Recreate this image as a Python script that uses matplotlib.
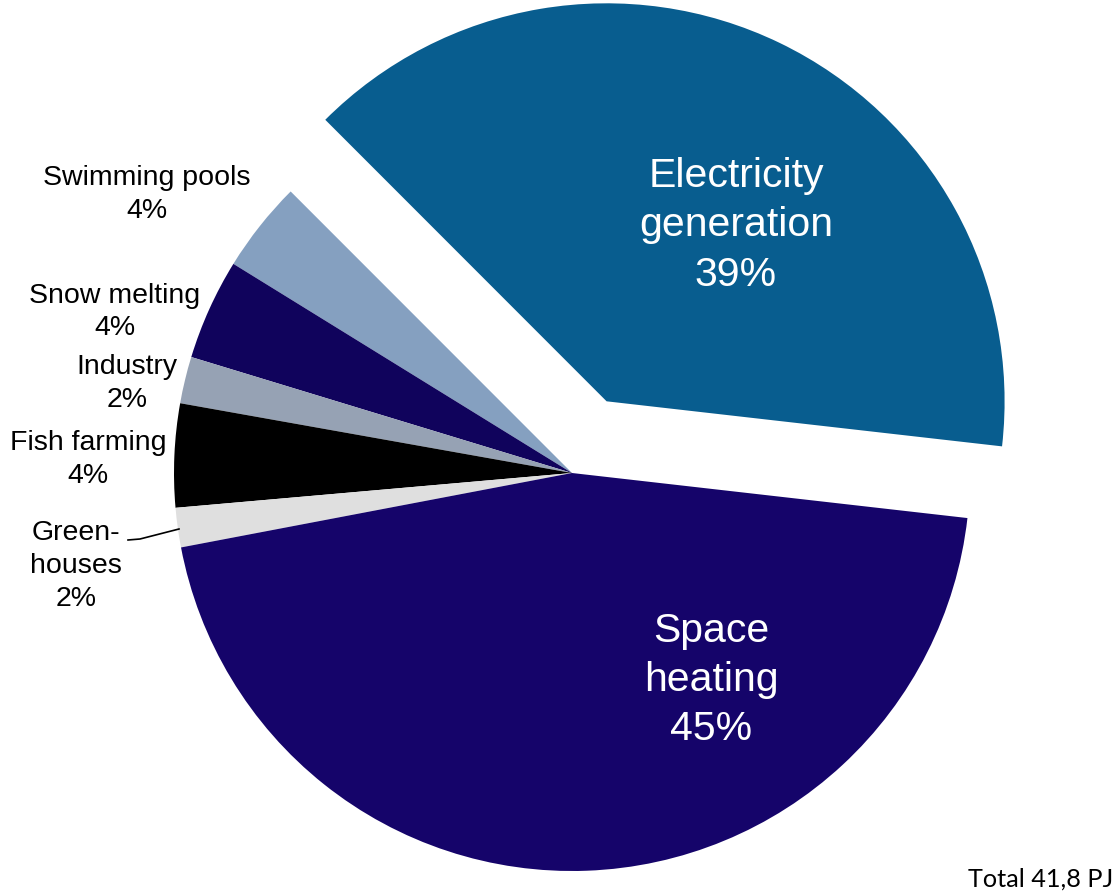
import matplotlib.pyplot as plt

# shares of geothermal use (%)
categories = ["Electricity\ngeneration", "Swimming pools", "Snow melting", "Industry",
              "Fish farming", "Green-\nhouses", "Space\nheating"]
shares = [39.3, 3.7, 4.1, 1.9, 4.2, 1.6, 45.2]
pct_labels = ["39%", "4%", "4%", "2%", "4%", "2%", "45%"]
colors = ["#085D8F", "#85A0C0", "#10035C", "#96A2B4", "#000000", "#DFDFDF", "#15046A"]
total_text = "Total 41,8 PJ"

W, H = 1117, 894
R = 398
cx, cy = 572, H - 473

fig = plt.figure(figsize=(W / 100, H / 100), dpi=100)
ax = fig.add_axes([0, 0, 1, 1])

explode = [0.2 * R] + [0] * (len(shares) - 1)
ax.pie(shares, colors=colors, explode=explode, startangle=-6.5, counterclock=True,
       center=(cx, cy), radius=R, frame=True, wedgeprops=dict(linewidth=0))
ax.set_xlim(0, W)
ax.set_ylim(0, H)
ax.set_aspect("equal")
ax.axis("off")

font = "Liberation Sans"


def put(lines, x, y_base, dy, size, color):
    # y_base: baseline of first line in image pixels (top-down)
    for i, line in enumerate(lines):
        ax.text(x, H - (y_base + i * dy), line, ha="center", va="baseline",
                fontsize=size, color=color, family=font)


# label positions (image pixels): x center, first baseline, line step
pos = {
    0: (736, 187, 49.5, 29.5, "white"),
    1: (147, 185, 33, 20.5, "black"),
    2: (115, 303, 32, 20.5, "black"),
    3: (127, 374, 33, 20.5, "black"),
    4: (88, 450, 33, 20.5, "black"),
    5: (76, 540, 33, 20.5, "black"),
    6: (711, 642, 49, 29.5, "white"),
}
for i, (x, yb, dy, size, col) in pos.items():
    lines = categories[i].split("\n") + [pct_labels[i]]
    put(lines, x, yb, dy, size, col)

# leader line for Greenhouses
ax.plot([128, 140, 179], [H - 540, H - 539, H - 529], color="black", lw=1.2)

ax.text(1113, H - 887, total_text, ha="right", va="baseline", fontsize=18.2,
        family="Lato", color="black")

fig.savefig("out.png", dpi=100)
